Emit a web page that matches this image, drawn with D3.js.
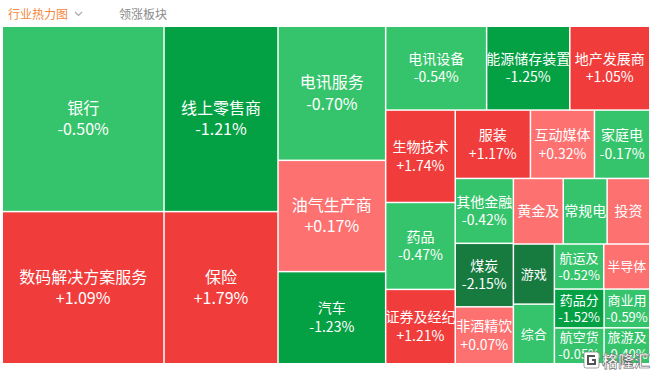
<!DOCTYPE html>
<html lang="zh">
<head>
<meta charset="utf-8">
<title>行业热力图</title>
<script src="https://cdn.jsdelivr.net/npm/d3@7"></script>
<style>
  body { margin: 0; background: #fff; }
  svg { display: block; font-family: "Noto Sans CJK SC", "Noto Sans", sans-serif; }
  .tab { font-size: 12px; }
  .cell-label { fill: #fff; text-anchor: middle; }
  .mark { font-size: 16px; font-weight: bold; fill: #fff; stroke: #666; stroke-width: 0.6; }
</style>
</head>
<body>
<div id="chart"></div>
<script>
// sector names as shown (long names are cut off in the picture)
var names = ["银行", "数码解决方案服务", "线上零售商", "保险", "电讯服务", "油气生产商", "汽车",
  "电讯设备", "能源储存装置", "地产发展商", "生物技术", "药品", "证券及经纪",
  "服装", "互动媒体", "家庭电", "其他金融", "煤炭", "非酒精饮",
  "黄金及", "常规电", "投资", "游戏", "综合",
  "航运及", "半导体", "药品分", "航空货", "商业用", "旅游及"];

// relative weight of each sector (cell area)
var weights = [298, 244.7, 210, 172.4, 143.5, 119.1, 98.6,
  84.1, 69.3, 66.6, 63.9, 60.1, 51.4,
  51.1, 43.5, 37.6, 37.5, 36.7, 32.9,
  32.5, 28.6, 27.8, 24.5, 24.3,
  22.1, 20.6, 19.2, 17.7, 17.6, 16.3];

// daily change in percent
var changes = [-0.50, 1.09, -1.21, 1.79, -0.70, 0.17, -1.23,
  -0.54, -1.25, 1.05, 1.74, -0.47, 1.21,
  1.17, 0.32, -0.17, -0.42, -2.15, 0.07,
  0.50, -0.30, 0.40, -2.30, -0.60,
  -0.52, 0.60, -1.52, -0.05, -0.59, -0.40];

// sectors whose change text is cut off in the picture
var noChangeText = ["黄金及", "常规电", "投资", "半导体", "游戏", "综合"];

var W = 655, H = 373;
var box = {left: 3, top: 27, width: 646, height: 336};

var svg = d3.select("#chart").append("svg")
    .attr("width", W)
    .attr("height", H);

// header tabs
svg.append("text").attr("class", "tab")
    .attr("x", 8).attr("y", 19)
    .attr("fill", "#f5883d")
    .text("行业热力图");
svg.append("path")
    .attr("d", "M75,12 L78.5,15.5 L82,12")
    .attr("fill", "none")
    .attr("stroke", "#aaa")
    .attr("stroke-width", 1.2);
svg.append("text").attr("class", "tab")
    .attr("x", 119).attr("y", 19)
    .attr("fill", "#8a8a8a")
    .text("领涨板块");

var data = names.map(function(n, i) {
    return {name: n, weight: weights[i], change: changes[i]};
});

var root = d3.hierarchy({children: data})
    .sum(function(d) { return d.weight || 0; });

d3.treemap()
    .tile(d3.treemapSquarify.ratio(1))
    .size([box.width, box.height])
    .paddingInner(1.5)(root);

var color = d3.scaleThreshold()
    .domain([-2, -1, 0, 1])
    .range(["#177a3e", "#04a044", "#35c46b", "#fd7171", "#f13c3c"]);

var fmt = function(v) { return (v > 0 ? "+" : "") + v.toFixed(2) + "%"; };

var plt = svg.append("g")
    .attr("transform", "translate(" + box.left + "," + box.top + ")");

var cells = plt.selectAll("g.cell")
    .data(root.leaves())
    .enter()
    .append("g")
    .attr("class", "cell")
    .attr("transform", function(d) { return "translate(" + d.x0 + "," + d.y0 + ")"; });

cells.append("rect")
    .attr("width", function(d) { return d.x1 - d.x0; })
    .attr("height", function(d) { return d.y1 - d.y0; })
    .attr("fill", function(d) { return color(d.data.change); });

cells.each(function(d) {
    var w = d.x1 - d.x0, h = d.y1 - d.y0, area = w * h;
    var fs = area >= 11000 ? 16 : (area >= 2500 ? 14 : 13);
    var half = fs * 0.66;
    var g = d3.select(this);
    var both = noChangeText.indexOf(d.data.name) < 0;

    g.append("text")
        .attr("class", "cell-label")
        .attr("x", w / 2)
        .attr("y", h / 2 + (both ? -half : 0))
        .attr("dy", "0.36em")
        .style("font-size", fs + "px")
        .text(d.data.name);

    if (both) {
        g.append("text")
            .attr("class", "cell-label")
            .attr("x", w / 2)
            .attr("y", h / 2 + half)
            .attr("dy", "0.36em")
            .style("font-size", fs + "px")
            .text(fmt(d.data.change));
    }
});

// watermark
var mark = svg.append("g").attr("transform", "translate(584,352)");
mark.append("rect")
    .attr("width", 15).attr("height", 16)
    .attr("rx", 2)
    .attr("fill", "#fff")
    .attr("stroke", "#666")
    .attr("stroke-width", 0.6);
mark.append("path")
    .attr("d", "M11,4 L4,4 L4,12 L11,12 L11,8 L8,8")
    .attr("fill", "none")
    .attr("stroke", "#555")
    .attr("stroke-width", 2);
mark.append("text").attr("class", "mark")
    .attr("x", 18).attr("y", 15)
    .text("格隆汇");
</script>
</body>
</html>
